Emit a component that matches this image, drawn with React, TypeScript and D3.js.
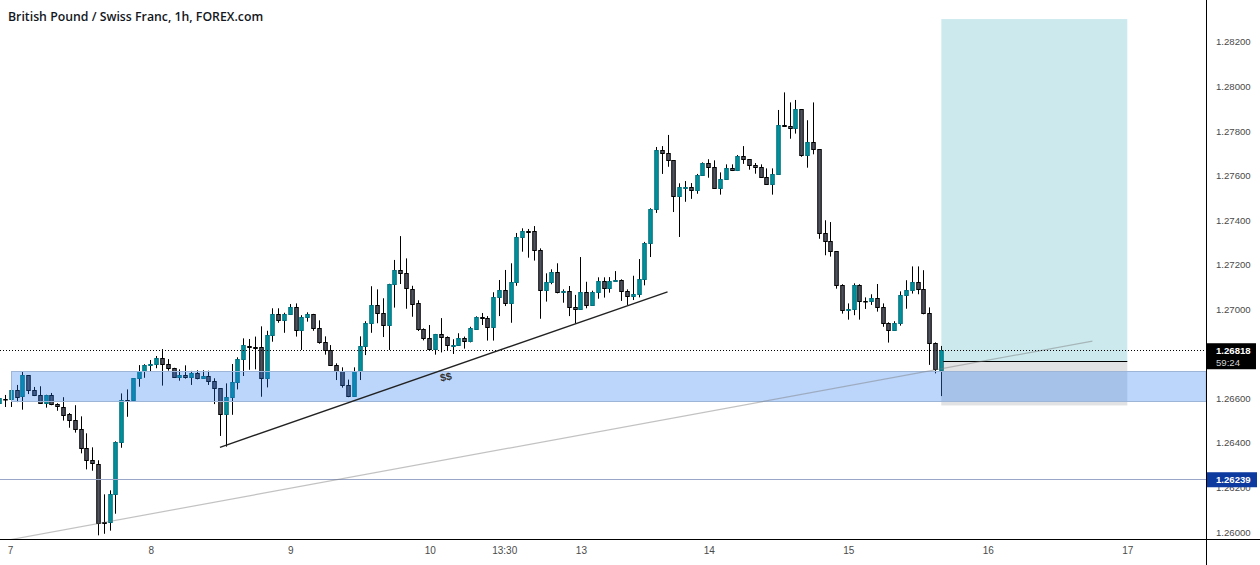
import * as d3 from 'd3'
import { useEffect, useRef } from 'react'

const WIDTH = 1260
const HEIGHT = 565
const PLOT_RIGHT = 1206
const PLOT_BOTTOM = 539

const TITLE = 'British Pound / Swiss Franc, 1h, FOREX.com'

// hourly bars, first two are cut off by the left edge so they sit at index -2 and -1
const FIRST_INDEX = -2

const opens = [
  1.26579, 1.26598, 1.26596, 1.26637, 1.26607, 1.26703, 1.26636, 1.26614, 1.26578, 1.26614,
  1.26573, 1.26562, 1.26528, 1.26501, 1.26461, 1.26376, 1.26322, 1.26307, 1.26045, 1.26044,
  1.26169, 1.26403, 1.26592, 1.26591, 1.26690, 1.26721, 1.26748, 1.26753, 1.26780, 1.26753,
  1.26735, 1.26694, 1.26703, 1.26694, 1.26712, 1.26690, 1.26699, 1.26676, 1.26645, 1.26528,
  1.26605, 1.26672, 1.26775, 1.26836, 1.26832, 1.26829, 1.26692, 1.26883, 1.26977, 1.26948,
  1.26977, 1.27008, 1.26905, 1.26964, 1.26977, 1.26914, 1.26851, 1.26815, 1.26748, 1.26721,
  1.26658, 1.26607, 1.26721, 1.26833, 1.26937, 1.27017, 1.26982, 1.26928, 1.27112, 1.27175,
  1.27161, 1.27092, 1.27026, 1.26910, 1.26869, 1.26820, 1.26887, 1.26874, 1.26836, 1.26838,
  1.26869, 1.26856, 1.26911, 1.26964, 1.26959, 1.26919, 1.27053, 1.27085, 1.27026, 1.27121,
  1.27323, 1.27351, 1.27350, 1.27264, 1.27085, 1.27121, 1.27166, 1.27076, 1.27080, 1.27008,
  1.26998, 1.27076, 1.27017, 1.27076, 1.27125, 1.27094, 1.27125, 1.27130, 1.27080, 1.27058,
  1.27067, 1.27134, 1.27296, 1.27448, 1.27713, 1.27700, 1.27668, 1.27506, 1.27545, 1.27547,
  1.27532, 1.27601, 1.27655, 1.27639, 1.27543, 1.27583, 1.27632, 1.27623, 1.27686, 1.27673,
  1.27646, 1.27637, 1.27592, 1.27560, 1.27605, 1.27825, 1.27821, 1.27812, 1.27897, 1.27691,
  1.27749, 1.27718, 1.27341, 1.27305, 1.27260, 1.27107, 1.26995, 1.26999, 1.27107, 1.27035,
  1.27035, 1.27049, 1.27008, 1.26937, 1.26905, 1.26937, 1.27062, 1.27085, 1.27121, 1.27089,
  1.26982, 1.26847, 1.26730,
]
const closes = [
  1.26601, 1.26596, 1.26637, 1.26607, 1.26703, 1.26636, 1.26614, 1.26578, 1.26614, 1.26573,
  1.26564, 1.26528, 1.26501, 1.26461, 1.26376, 1.26322, 1.26307, 1.26044, 1.26042, 1.26169,
  1.26403, 1.26591, 1.26590, 1.26690, 1.26721, 1.26748, 1.26753, 1.26780, 1.26753, 1.26735,
  1.26694, 1.26703, 1.26694, 1.26712, 1.26690, 1.26699, 1.26676, 1.26645, 1.26528, 1.26605,
  1.26672, 1.26775, 1.26838, 1.26833, 1.26829, 1.26692, 1.26883, 1.26977, 1.26948, 1.26977,
  1.27008, 1.26905, 1.26964, 1.26977, 1.26914, 1.26851, 1.26815, 1.26748, 1.26721, 1.26657,
  1.26607, 1.26721, 1.26833, 1.26937, 1.27017, 1.26982, 1.26928, 1.27112, 1.27175, 1.27161,
  1.27092, 1.27026, 1.26910, 1.26869, 1.26820, 1.26887, 1.26874, 1.26838, 1.26839, 1.26869,
  1.26856, 1.26914, 1.26964, 1.26959, 1.26919, 1.27053, 1.27085, 1.27026, 1.27121, 1.27323,
  1.27350, 1.27348, 1.27264, 1.27085, 1.27121, 1.27166, 1.27076, 1.27080, 1.27008, 1.26998,
  1.27076, 1.27017, 1.27076, 1.27125, 1.27094, 1.27125, 1.27130, 1.27080, 1.27058, 1.27067,
  1.27134, 1.27296, 1.27448, 1.27713, 1.27700, 1.27668, 1.27506, 1.27547, 1.27548, 1.27532,
  1.27601, 1.27655, 1.27639, 1.27543, 1.27583, 1.27632, 1.27623, 1.27686, 1.27673, 1.27646,
  1.27637, 1.27592, 1.27560, 1.27605, 1.27825, 1.27821, 1.27812, 1.27897, 1.27691, 1.27749,
  1.27718, 1.27341, 1.27305, 1.27260, 1.27107, 1.26995, 1.26999, 1.27107, 1.27035, 1.27034,
  1.27049, 1.27008, 1.26937, 1.26905, 1.26937, 1.27062, 1.27085, 1.27121, 1.27089, 1.26982,
  1.26847, 1.26730, 1.26818,
]
const highs = [
  1.26606, 1.26615, 1.26642, 1.26660, 1.26721, 1.26703, 1.26651, 1.26654, 1.26616, 1.26624,
  1.26578, 1.26605, 1.26534, 1.26569, 1.26519, 1.26443, 1.26380, 1.26322, 1.26169, 1.26187,
  1.26407, 1.26622, 1.26640, 1.26691, 1.26749, 1.26753, 1.26772, 1.26790, 1.26821, 1.26776,
  1.26737, 1.26730, 1.26748, 1.26723, 1.26726, 1.26726, 1.26724, 1.26690, 1.26646, 1.26667,
  1.26754, 1.26784, 1.26869, 1.26866, 1.26877, 1.26923, 1.26903, 1.27004, 1.27004, 1.26984,
  1.27023, 1.27026, 1.26973, 1.26986, 1.26979, 1.26950, 1.26878, 1.26839, 1.26757, 1.26739,
  1.26684, 1.26739, 1.26878, 1.26946, 1.27103, 1.27089, 1.27049, 1.27114, 1.27221, 1.27328,
  1.27228, 1.27105, 1.27040, 1.26914, 1.26929, 1.26889, 1.26960, 1.26878, 1.26865, 1.26892,
  1.26877, 1.26921, 1.26968, 1.26983, 1.26969, 1.27076, 1.27131, 1.27176, 1.27206, 1.27342,
  1.27363, 1.27360, 1.27373, 1.27273, 1.27161, 1.27179, 1.27206, 1.27089, 1.27104, 1.27064,
  1.27234, 1.27123, 1.27083, 1.27143, 1.27143, 1.27144, 1.27171, 1.27134, 1.27089, 1.27150,
  1.27225, 1.27302, 1.27453, 1.27728, 1.27732, 1.27782, 1.27668, 1.27565, 1.27575, 1.27566,
  1.27607, 1.27659, 1.27673, 1.27668, 1.27614, 1.27650, 1.27650, 1.27692, 1.27732, 1.27673,
  1.27656, 1.27650, 1.27632, 1.27632, 1.27894, 1.27973, 1.27928, 1.27939, 1.27897, 1.27848,
  1.27928, 1.27718, 1.27399, 1.27391, 1.27260, 1.27112, 1.27026, 1.27116, 1.27112, 1.27053,
  1.27067, 1.27113, 1.27026, 1.26941, 1.26946, 1.27080, 1.27130, 1.27192, 1.27192, 1.27175,
  1.27008, 1.26851, 1.26835,
]
const lows = [
  1.26579, 1.26561, 1.26561, 1.26583, 1.26549, 1.26619, 1.26610, 1.26578, 1.26558, 1.26569,
  1.26544, 1.26500, 1.26468, 1.26446, 1.26353, 1.26281, 1.26275, 1.25985, 1.25992, 1.26006,
  1.26082, 1.26378, 1.26517, 1.26585, 1.26652, 1.26692, 1.26721, 1.26735, 1.26657, 1.26724,
  1.26691, 1.26679, 1.26688, 1.26660, 1.26685, 1.26690, 1.26660, 1.26574, 1.26431, 1.26383,
  1.26526, 1.26640, 1.26700, 1.26728, 1.26730, 1.26607, 1.26649, 1.26854, 1.26939, 1.26894,
  1.26975, 1.26877, 1.26817, 1.26944, 1.26903, 1.26845, 1.26796, 1.26748, 1.26682, 1.26648,
  1.26605, 1.26607, 1.26682, 1.26794, 1.26894, 1.26937, 1.26875, 1.26817, 1.27007, 1.27113,
  1.27002, 1.26966, 1.26902, 1.26860, 1.26820, 1.26796, 1.26806, 1.26815, 1.26799, 1.26838,
  1.26823, 1.26851, 1.26907, 1.26929, 1.26859, 1.26859, 1.26969, 1.27014, 1.26939, 1.27105,
  1.27258, 1.27231, 1.27218, 1.26957, 1.27034, 1.27112, 1.27071, 1.27029, 1.26969, 1.26937,
  1.26998, 1.27004, 1.27017, 1.27047, 1.27052, 1.27074, 1.27125, 1.27037, 1.27019, 1.27041,
  1.27053, 1.27107, 1.27234, 1.27432, 1.27607, 1.27639, 1.27436, 1.27324, 1.27482, 1.27495,
  1.27518, 1.27601, 1.27590, 1.27543, 1.27514, 1.27583, 1.27620, 1.27620, 1.27652, 1.27626,
  1.27608, 1.27590, 1.27560, 1.27514, 1.27605, 1.27821, 1.27765, 1.27788, 1.27684, 1.27635,
  1.27695, 1.27316, 1.27242, 1.27236, 1.27092, 1.26980, 1.26953, 1.26973, 1.26953, 1.27001,
  1.27019, 1.26989, 1.26921, 1.26850, 1.26905, 1.26926, 1.27002, 1.27070, 1.27067, 1.26977,
  1.26750, 1.26712, 1.26610,
]

const priceTicks = [1.26, 1.262, 1.264, 1.266, 1.27, 1.272, 1.274, 1.276, 1.278, 1.28, 1.282]
const timeLabels = ['7', '8', '9', '10', '13:30', '13', '14', '15', '16', '17']
const timeLabelIndex = [-0.2, 24, 48, 72, 84.8, 98, 120, 144, 168, 192]

const lastPrice = 1.26818
const countdown = '59:24'
const alertPrice = 1.26239

// drawn levels
const zoneTop = 1.26723
const zoneBottom = 1.2659
const targetPrice = 1.28302
const entryPrice = 1.26767
const stopPrice = 1.26568
const positionStart = 160
const positionEnd = 192
const trendA = [[35.9, 1.2638], [112.9, 1.27078]]
const trendB = [[-0.5, 1.25964], [186, 1.26857]]

const UP = '#00909c'
const UP_EDGE = '#00707c'
const DOWN = '#4f525f'
const DOWN_EDGE = '#000000'
const TEXT = '#4a4a4a'
const FONT = '"Liberation Sans", Arial, sans-serif'
const AXIS_SIZE = 9.6

function drawChart(root: SVGSVGElement) {
  const svg = d3.select(root)
  svg.selectAll('*').remove()

  const x = d3.scaleLinear([0, 160], [11.3, 941.3])
  const y = d3.scaleLinear([1.26, 1.282], [532, 41.8])
  const snap = (v: number) => Math.floor(v) + 0.5
  const snapY = (v: number) => Math.round(v) + 0.5

  svg
    .append('defs')
    .append('clipPath')
    .attr('id', 'plot')
    .append('rect')
    .attr('width', PLOT_RIGHT)
    .attr('height', PLOT_BOTTOM)

  const plot = svg.append('g').attr('clip-path', 'url(#plot)')

  const bars = d3.range(opens.length).map((k) => ({
    i: k + FIRST_INDEX,
    open: opens[k],
    close: closes[k],
    high: highs[k],
    low: lows[k],
    up: closes[k] >= opens[k],
  }))

  const candle = plot
    .append('g')
    .selectAll('g')
    .data(bars)
    .join('g')
  candle
    .append('line')
    .attr('x1', (d) => snap(x(d.i)))
    .attr('x2', (d) => snap(x(d.i)))
    .attr('y1', (d) => y(d.high))
    .attr('y2', (d) => y(d.low))
    .attr('stroke', '#000')
  candle
    .append('rect')
    .attr('x', (d) => snap(x(d.i)) - 1.75)
    .attr('width', 3.5)
    .attr('y', (d) => Math.round(y(Math.max(d.open, d.close))) + 0.5)
    .attr('height', (d) => Math.max(0.5, Math.round(y(Math.min(d.open, d.close)) - y(Math.max(d.open, d.close)))))
    .attr('fill', (d) => (d.up ? UP : DOWN))
    .attr('stroke', (d) => (d.up ? UP_EDGE : DOWN_EDGE))

  const trend = d3
    .line<number[]>()
    .x((d) => x(d[0]))
    .y((d) => y(d[1]))

  // long position box
  plot
    .append('rect')
    .attr('x', x(positionStart))
    .attr('width', x(positionEnd) - x(positionStart))
    .attr('y', y(targetPrice))
    .attr('height', y(entryPrice) - y(targetPrice))
    .attr('fill', 'rgba(0, 150, 170, 0.2)')
  plot
    .append('rect')
    .attr('x', x(positionStart))
    .attr('width', x(positionEnd) - x(positionStart))
    .attr('y', y(entryPrice))
    .attr('height', y(stopPrice) - y(entryPrice))
    .attr('fill', 'rgba(120, 123, 134, 0.22)')
  plot
    .append('line')
    .attr('x1', x(positionStart) + 2)
    .attr('x2', x(positionEnd))
    .attr('y1', snapY(y(entryPrice)))
    .attr('y2', snapY(y(entryPrice)))
    .attr('stroke', '#000')

  // zone over the candles
  plot
    .append('rect')
    .attr('x', snap(x(0)))
    .attr('width', PLOT_RIGHT - x(0))
    .attr('y', snapY(y(zoneTop)))
    .attr('height', Math.round(y(zoneBottom) - y(zoneTop)))
    .attr('fill', 'rgba(33, 120, 243, 0.3)')
    .attr('stroke', '#9db5d6')

  plot
    .append('line')
    .attr('x1', 0)
    .attr('x2', PLOT_RIGHT)
    .attr('y1', snapY(y(alertPrice)))
    .attr('y2', snapY(y(alertPrice)))
    .attr('stroke', '#9aa6c8')
  plot
    .append('path')
    .attr('d', trend(trendB))
    .attr('fill', 'none')
    .attr('stroke', 'rgba(120, 120, 120, 0.45)')
    .attr('stroke-width', 1.2)
  plot
    .append('path')
    .attr('d', trend(trendA))
    .attr('fill', 'none')
    .attr('stroke', '#222')
    .attr('stroke-width', 1.4)
  plot
    .append('line')
    .attr('x1', 0)
    .attr('x2', PLOT_RIGHT)
    .attr('y1', snapY(y(lastPrice)))
    .attr('y2', snapY(y(lastPrice)))
    .attr('stroke', '#000')
    .attr('stroke-dasharray', '1 2')

  plot
    .append('text')
    .attr('transform', `translate(${x(73.9)},381.5) rotate(-10)`)
    .attr('font-family', FONT)
    .attr('font-size', 10.5)
    .attr('font-weight', 700)
    .attr('fill', '#333')
    .text('$$')

  svg
    .append('text')
    .attr('x', 8)
    .attr('y', 21)
    .attr('font-family', '"Open Sans", sans-serif')
    .attr('font-size', 12.3)
    .attr('font-weight', 600)
    .attr('fill', '#131722')
    .text(TITLE)

  // axis frame
  svg
    .append('line')
    .attr('x1', PLOT_RIGHT + 0.5)
    .attr('x2', PLOT_RIGHT + 0.5)
    .attr('y1', 0)
    .attr('y2', HEIGHT)
    .attr('stroke', '#000')
  svg
    .append('line')
    .attr('x1', 0)
    .attr('x2', WIDTH)
    .attr('y1', PLOT_BOTTOM + 0.5)
    .attr('y2', PLOT_BOTTOM + 0.5)
    .attr('stroke', '#000')

  const priceAxis = d3
    .axisRight(y)
    .tickValues(priceTicks)
    .tickSize(0)
    .tickPadding(0)
    .tickFormat((d) => d3.format('.5f')(d as number))
  svg
    .append('g')
    .attr('transform', 'translate(1216,0)')
    .call(priceAxis)
    .call((g) => g.select('.domain').remove())
    .call((g) =>
      g
        .selectAll('text')
        .attr('font-family', FONT)
        .attr('font-size', AXIS_SIZE)
        .attr('fill', TEXT),
    )

  const timeAxis = d3
    .axisBottom(x)
    .tickValues(timeLabelIndex)
    .tickSize(0)
    .tickPadding(0)
    .tickFormat((_, k) => timeLabels[k])
  svg
    .append('g')
    .attr('transform', `translate(0,${PLOT_BOTTOM + 8})`)
    .call(timeAxis)
    .call((g) => g.select('.domain').remove())
    .call((g) =>
      g
        .selectAll('text')
        .attr('font-family', FONT)
        .attr('font-size', 10)
        .attr('fill', TEXT),
    )

  // price tags on the axis
  svg
    .append('rect')
    .attr('x', PLOT_RIGHT + 1)
    .attr('y', y(lastPrice) - 6.5)
    .attr('width', 49)
    .attr('height', 26)
    .attr('fill', '#000')
  svg
    .append('text')
    .attr('x', 1216)
    .attr('y', y(lastPrice) + 4)
    .attr('font-family', FONT)
    .attr('font-size', AXIS_SIZE)
    .attr('font-weight', 700)
    .attr('fill', '#fff')
    .text(d3.format('.5f')(lastPrice))
  svg
    .append('text')
    .attr('x', 1216)
    .attr('y', y(lastPrice) + 16)
    .attr('font-family', FONT)
    .attr('font-size', AXIS_SIZE)
    .attr('fill', '#d0d0d0')
    .text(countdown)
  svg
    .append('rect')
    .attr('x', PLOT_RIGHT + 1)
    .attr('y', y(alertPrice) - 6.5)
    .attr('width', 50)
    .attr('height', 15)
    .attr('fill', '#0d3a9e')
  svg
    .append('text')
    .attr('x', 1216)
    .attr('y', y(alertPrice) + 4.5)
    .attr('font-family', FONT)
    .attr('font-size', AXIS_SIZE)
    .attr('font-weight', 700)
    .attr('fill', '#fff')
    .text(d3.format('.5f')(alertPrice))
}

export default function App() {
  const ref = useRef<SVGSVGElement>(null)
  useEffect(() => {
    if (ref.current) drawChart(ref.current)
  }, [])
  return (
    <svg
      ref={ref}
      width={WIDTH}
      height={HEIGHT}
      style={{ position: 'fixed', left: 0, top: 0, display: 'block', background: '#fff' }}
    />
  )
}
